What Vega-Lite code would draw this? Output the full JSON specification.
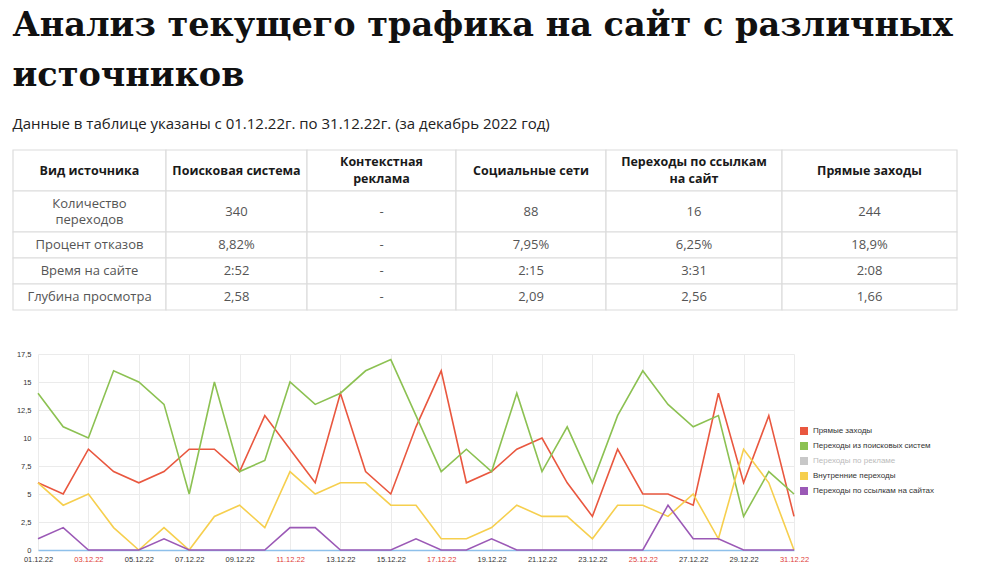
{
  "$schema": "https://vega.github.io/schema/vega-lite/v6.json",
  "padding": {"left": 12, "top": 8, "right": 0, "bottom": 0},
  "background": "white",
  "title": {
    "text": ["Анализ текущего трафика на сайт с различных", "источников"],
    "subtitle": "Данные в таблице указаны с 01.12.22г. по 31.12.22г. (за декабрь 2022 год)",
    "anchor": "start",
    "font": "DejaVu Serif",
    "fontSize": 33.5,
    "fontWeight": "bold",
    "color": "#111111",
    "lineHeight": 50,
    "subtitleFont": "Open Sans",
    "subtitleFontSize": 15,
    "subtitleColor": "#222222",
    "subtitlePadding": 24,
    "offset": 16
  },
  "datasets": {
    "table": [
      {"r": 0, "c": 0, "t": "Вид источника"},
      {"r": 0, "c": 1, "t": "Поисковая система"},
      {"r": 0, "c": 2, "t": "Контекстная\nреклама"},
      {"r": 0, "c": 3, "t": "Социальные сети"},
      {"r": 0, "c": 4, "t": "Переходы по ссылкам\nна сайт"},
      {"r": 0, "c": 5, "t": "Прямые заходы"},
      {"r": 1, "c": 0, "t": "Количество\nпереходов"},
      {"r": 1, "c": 1, "t": "340"},
      {"r": 1, "c": 2, "t": "-"},
      {"r": 1, "c": 3, "t": "88"},
      {"r": 1, "c": 4, "t": "16"},
      {"r": 1, "c": 5, "t": "244"},
      {"r": 2, "c": 0, "t": "Процент отказов"},
      {"r": 2, "c": 1, "t": "8,82%"},
      {"r": 2, "c": 2, "t": "-"},
      {"r": 2, "c": 3, "t": "7,95%"},
      {"r": 2, "c": 4, "t": "6,25%"},
      {"r": 2, "c": 5, "t": "18,9%"},
      {"r": 3, "c": 0, "t": "Время на сайте"},
      {"r": 3, "c": 1, "t": "2:52"},
      {"r": 3, "c": 2, "t": "-"},
      {"r": 3, "c": 3, "t": "2:15"},
      {"r": 3, "c": 4, "t": "3:31"},
      {"r": 3, "c": 5, "t": "2:08"},
      {"r": 4, "c": 0, "t": "Глубина просмотра"},
      {"r": 4, "c": 1, "t": "2,58"},
      {"r": 4, "c": 2, "t": "-"},
      {"r": 4, "c": 3, "t": "2,09"},
      {"r": 4, "c": 4, "t": "2,56"},
      {"r": 4, "c": 5, "t": "1,66"}
    ],
    "traffic": [
      {"d": "01.12.22", "s": "Прямые заходы", "v": 6},
      {"d": "02.12.22", "s": "Прямые заходы", "v": 5},
      {"d": "03.12.22", "s": "Прямые заходы", "v": 9},
      {"d": "04.12.22", "s": "Прямые заходы", "v": 7},
      {"d": "05.12.22", "s": "Прямые заходы", "v": 6},
      {"d": "06.12.22", "s": "Прямые заходы", "v": 7},
      {"d": "07.12.22", "s": "Прямые заходы", "v": 9},
      {"d": "08.12.22", "s": "Прямые заходы", "v": 9},
      {"d": "09.12.22", "s": "Прямые заходы", "v": 7},
      {"d": "10.12.22", "s": "Прямые заходы", "v": 12},
      {"d": "11.12.22", "s": "Прямые заходы", "v": 9},
      {"d": "12.12.22", "s": "Прямые заходы", "v": 6},
      {"d": "13.12.22", "s": "Прямые заходы", "v": 14},
      {"d": "14.12.22", "s": "Прямые заходы", "v": 7},
      {"d": "15.12.22", "s": "Прямые заходы", "v": 5},
      {"d": "16.12.22", "s": "Прямые заходы", "v": 11},
      {"d": "17.12.22", "s": "Прямые заходы", "v": 16},
      {"d": "18.12.22", "s": "Прямые заходы", "v": 6},
      {"d": "19.12.22", "s": "Прямые заходы", "v": 7},
      {"d": "20.12.22", "s": "Прямые заходы", "v": 9},
      {"d": "21.12.22", "s": "Прямые заходы", "v": 10},
      {"d": "22.12.22", "s": "Прямые заходы", "v": 6},
      {"d": "23.12.22", "s": "Прямые заходы", "v": 3},
      {"d": "24.12.22", "s": "Прямые заходы", "v": 9},
      {"d": "25.12.22", "s": "Прямые заходы", "v": 5},
      {"d": "26.12.22", "s": "Прямые заходы", "v": 5},
      {"d": "27.12.22", "s": "Прямые заходы", "v": 4},
      {"d": "28.12.22", "s": "Прямые заходы", "v": 14},
      {"d": "29.12.22", "s": "Прямые заходы", "v": 6},
      {"d": "30.12.22", "s": "Прямые заходы", "v": 12},
      {"d": "31.12.22", "s": "Прямые заходы", "v": 3},
      {"d": "01.12.22", "s": "Переходы из поисковых систем", "v": 14},
      {"d": "02.12.22", "s": "Переходы из поисковых систем", "v": 11},
      {"d": "03.12.22", "s": "Переходы из поисковых систем", "v": 10},
      {"d": "04.12.22", "s": "Переходы из поисковых систем", "v": 16},
      {"d": "05.12.22", "s": "Переходы из поисковых систем", "v": 15},
      {"d": "06.12.22", "s": "Переходы из поисковых систем", "v": 13},
      {"d": "07.12.22", "s": "Переходы из поисковых систем", "v": 5},
      {"d": "08.12.22", "s": "Переходы из поисковых систем", "v": 15},
      {"d": "09.12.22", "s": "Переходы из поисковых систем", "v": 7},
      {"d": "10.12.22", "s": "Переходы из поисковых систем", "v": 8},
      {"d": "11.12.22", "s": "Переходы из поисковых систем", "v": 15},
      {"d": "12.12.22", "s": "Переходы из поисковых систем", "v": 13},
      {"d": "13.12.22", "s": "Переходы из поисковых систем", "v": 14},
      {"d": "14.12.22", "s": "Переходы из поисковых систем", "v": 16},
      {"d": "15.12.22", "s": "Переходы из поисковых систем", "v": 17},
      {"d": "16.12.22", "s": "Переходы из поисковых систем", "v": 12},
      {"d": "17.12.22", "s": "Переходы из поисковых систем", "v": 7},
      {"d": "18.12.22", "s": "Переходы из поисковых систем", "v": 9},
      {"d": "19.12.22", "s": "Переходы из поисковых систем", "v": 7},
      {"d": "20.12.22", "s": "Переходы из поисковых систем", "v": 14},
      {"d": "21.12.22", "s": "Переходы из поисковых систем", "v": 7},
      {"d": "22.12.22", "s": "Переходы из поисковых систем", "v": 11},
      {"d": "23.12.22", "s": "Переходы из поисковых систем", "v": 6},
      {"d": "24.12.22", "s": "Переходы из поисковых систем", "v": 12},
      {"d": "25.12.22", "s": "Переходы из поисковых систем", "v": 16},
      {"d": "26.12.22", "s": "Переходы из поисковых систем", "v": 13},
      {"d": "27.12.22", "s": "Переходы из поисковых систем", "v": 11},
      {"d": "28.12.22", "s": "Переходы из поисковых систем", "v": 12},
      {"d": "29.12.22", "s": "Переходы из поисковых систем", "v": 3},
      {"d": "30.12.22", "s": "Переходы из поисковых систем", "v": 7},
      {"d": "31.12.22", "s": "Переходы из поисковых систем", "v": 5},
      {"d": "01.12.22", "s": "Внутренние переходы", "v": 6},
      {"d": "02.12.22", "s": "Внутренние переходы", "v": 4},
      {"d": "03.12.22", "s": "Внутренние переходы", "v": 5},
      {"d": "04.12.22", "s": "Внутренние переходы", "v": 2},
      {"d": "05.12.22", "s": "Внутренние переходы", "v": 0},
      {"d": "06.12.22", "s": "Внутренние переходы", "v": 2},
      {"d": "07.12.22", "s": "Внутренние переходы", "v": 0},
      {"d": "08.12.22", "s": "Внутренние переходы", "v": 3},
      {"d": "09.12.22", "s": "Внутренние переходы", "v": 4},
      {"d": "10.12.22", "s": "Внутренние переходы", "v": 2},
      {"d": "11.12.22", "s": "Внутренние переходы", "v": 7},
      {"d": "12.12.22", "s": "Внутренние переходы", "v": 5},
      {"d": "13.12.22", "s": "Внутренние переходы", "v": 6},
      {"d": "14.12.22", "s": "Внутренние переходы", "v": 6},
      {"d": "15.12.22", "s": "Внутренние переходы", "v": 4},
      {"d": "16.12.22", "s": "Внутренние переходы", "v": 4},
      {"d": "17.12.22", "s": "Внутренние переходы", "v": 1},
      {"d": "18.12.22", "s": "Внутренние переходы", "v": 1},
      {"d": "19.12.22", "s": "Внутренние переходы", "v": 2},
      {"d": "20.12.22", "s": "Внутренние переходы", "v": 4},
      {"d": "21.12.22", "s": "Внутренние переходы", "v": 3},
      {"d": "22.12.22", "s": "Внутренние переходы", "v": 3},
      {"d": "23.12.22", "s": "Внутренние переходы", "v": 1},
      {"d": "24.12.22", "s": "Внутренние переходы", "v": 4},
      {"d": "25.12.22", "s": "Внутренние переходы", "v": 4},
      {"d": "26.12.22", "s": "Внутренние переходы", "v": 3},
      {"d": "27.12.22", "s": "Внутренние переходы", "v": 5},
      {"d": "28.12.22", "s": "Внутренние переходы", "v": 1},
      {"d": "29.12.22", "s": "Внутренние переходы", "v": 9},
      {"d": "30.12.22", "s": "Внутренние переходы", "v": 6},
      {"d": "31.12.22", "s": "Внутренние переходы", "v": 0},
      {"d": "01.12.22", "s": "Переходы по ссылкам на сайтах", "v": 1},
      {"d": "02.12.22", "s": "Переходы по ссылкам на сайтах", "v": 2},
      {"d": "03.12.22", "s": "Переходы по ссылкам на сайтах", "v": 0},
      {"d": "04.12.22", "s": "Переходы по ссылкам на сайтах", "v": 0},
      {"d": "05.12.22", "s": "Переходы по ссылкам на сайтах", "v": 0},
      {"d": "06.12.22", "s": "Переходы по ссылкам на сайтах", "v": 1},
      {"d": "07.12.22", "s": "Переходы по ссылкам на сайтах", "v": 0},
      {"d": "08.12.22", "s": "Переходы по ссылкам на сайтах", "v": 0},
      {"d": "09.12.22", "s": "Переходы по ссылкам на сайтах", "v": 0},
      {"d": "10.12.22", "s": "Переходы по ссылкам на сайтах", "v": 0},
      {"d": "11.12.22", "s": "Переходы по ссылкам на сайтах", "v": 2},
      {"d": "12.12.22", "s": "Переходы по ссылкам на сайтах", "v": 2},
      {"d": "13.12.22", "s": "Переходы по ссылкам на сайтах", "v": 0},
      {"d": "14.12.22", "s": "Переходы по ссылкам на сайтах", "v": 0},
      {"d": "15.12.22", "s": "Переходы по ссылкам на сайтах", "v": 0},
      {"d": "16.12.22", "s": "Переходы по ссылкам на сайтах", "v": 1},
      {"d": "17.12.22", "s": "Переходы по ссылкам на сайтах", "v": 0},
      {"d": "18.12.22", "s": "Переходы по ссылкам на сайтах", "v": 0},
      {"d": "19.12.22", "s": "Переходы по ссылкам на сайтах", "v": 1},
      {"d": "20.12.22", "s": "Переходы по ссылкам на сайтах", "v": 0},
      {"d": "21.12.22", "s": "Переходы по ссылкам на сайтах", "v": 0},
      {"d": "22.12.22", "s": "Переходы по ссылкам на сайтах", "v": 0},
      {"d": "23.12.22", "s": "Переходы по ссылкам на сайтах", "v": 0},
      {"d": "24.12.22", "s": "Переходы по ссылкам на сайтах", "v": 0},
      {"d": "25.12.22", "s": "Переходы по ссылкам на сайтах", "v": 0},
      {"d": "26.12.22", "s": "Переходы по ссылкам на сайтах", "v": 4},
      {"d": "27.12.22", "s": "Переходы по ссылкам на сайтах", "v": 1},
      {"d": "28.12.22", "s": "Переходы по ссылкам на сайтах", "v": 1},
      {"d": "29.12.22", "s": "Переходы по ссылкам на сайтах", "v": 0},
      {"d": "30.12.22", "s": "Переходы по ссылкам на сайтах", "v": 0},
      {"d": "31.12.22", "s": "Переходы по ссылкам на сайтах", "v": 0}
    ]
  },
  "spacing": 39,
  "resolve": {"legend": {"color": "independent"}},
  "vconcat": [
    {
      "width": 944,
      "height": 160,
      "data": {"name": "table"},
      "transform": [
        {"calculate": "datum.c + 1", "as": "c2"},
        {"calculate": "datum.r + 1", "as": "r2"},
        {"calculate": "datum.c + 0.5", "as": "cm"},
        {"calculate": "datum.r + 0.5", "as": "rm"},
        {"calculate": "indexof(datum.t, '\\n') >= 0", "as": "multi"}
      ],
      "encoding": {
        "x": {"field": "cm", "type": "quantitative", "axis": null,
          "scale": {"domain": [0, 1, 2, 3, 4, 5, 6], "range": [-25, 128, 269, 418, 568, 744, 919], "nice": false, "zero": false}},
        "y": {"field": "rm", "type": "quantitative", "axis": null,
          "scale": {"domain": [0, 1, 2, 3, 4, 5], "range": [0, 41, 82, 108, 134, 160], "nice": false, "zero": false}}
      },
      "layer": [
        {
          "mark": {"type": "rect", "fill": "white", "stroke": "#dcdcdc", "strokeWidth": 1.2},
          "encoding": {
            "x": {"field": "c", "type": "quantitative"},
            "x2": {"field": "c2"},
            "y": {"field": "r", "type": "quantitative"},
            "y2": {"field": "r2"}
          }
        },
        {
          "transform": [{"filter": "datum.r == 0 && !datum.multi"}],
          "mark": {"type": "text", "font": "Open Sans", "fontSize": 12.5, "fontWeight": "bold", "color": "#1a1a1a", "baseline": "middle"},
          "encoding": {"text": {"field": "t"}}
        },
        {
          "transform": [{"filter": "datum.r == 0 && datum.multi"}],
          "mark": {"type": "text", "font": "Open Sans", "fontSize": 12.5, "fontWeight": "bold", "color": "#1a1a1a", "lineBreak": "\n", "lineHeight": 17, "baseline": "middle", "dy": -8.5},
          "encoding": {"text": {"field": "t"}}
        },
        {
          "transform": [{"filter": "datum.r > 0 && !datum.multi"}],
          "mark": {"type": "text", "font": "Open Sans", "fontSize": 13, "color": "#555555", "baseline": "middle"},
          "encoding": {"text": {"field": "t"}}
        },
        {
          "transform": [{"filter": "datum.r > 0 && datum.multi"}],
          "mark": {"type": "text", "font": "Open Sans", "fontSize": 13, "color": "#555555", "lineBreak": "\n", "lineHeight": 16, "baseline": "middle", "dy": -8},
          "encoding": {"text": {"field": "t"}}
        }
      ]
    },
    {
      "width": 756,
      "height": 196,
      "data": {"name": "traffic"},
      "mark": {"type": "line", "strokeWidth": 1.6},
      "encoding": {
        "x": {
          "field": "d", "type": "ordinal",
          "scale": {"type": "point", "padding": 0},
          "axis": {
            "title": null,
            "labelAngle": 0,
            "values": ["01.12.22", "03.12.22", "05.12.22", "07.12.22", "09.12.22", "11.12.22", "13.12.22", "15.12.22", "17.12.22", "19.12.22", "21.12.22", "23.12.22", "25.12.22", "27.12.22", "29.12.22", "31.12.22"],
            "grid": true,
            "gridColor": "#ebebeb",
            "ticks": false,
            "domainColor": "#8ec0ea",
            "domainWidth": 1.5,
            "labelFont": "Liberation Sans",
            "labelFontSize": 7.5,
            "labelPadding": 5,
            "labelColor": {
              "condition": {"test": "indexof(['03.12.22','11.12.22','17.12.22','25.12.22','31.12.22'], datum.value) >= 0", "value": "#e0403a"},
              "value": "#333333"
            }
          }
        },
        "y": {
          "field": "v", "type": "quantitative",
          "scale": {"domain": [0, 17.5], "nice": false},
          "axis": {
            "title": null,
            "values": [0, 2.5, 5, 7.5, 10, 12.5, 15, 17.5],
            "labelExpr": "replace(toString(datum.value), '.', ',')",
            "grid": true,
            "gridColor": "#ebebeb",
            "ticks": false,
            "domain": false,
            "labelFont": "Liberation Sans",
            "labelFontSize": 7.5,
            "labelColor": "#333333",
            "labelPadding": 7,
            "minExtent": 25
          }
        },
        "color": {
          "field": "s", "type": "nominal",
          "scale": {
            "domain": ["Прямые заходы", "Переходы из поисковых систем", "Переходы по рекламе", "Внутренние переходы", "Переходы по ссылкам на сайтах"],
            "range": ["#e9573f", "#8cc152", "#c8c8c8", "#f6cf4e", "#9b59b6"]
          },
          "legend": {
            "title": null,
            "orient": "none",
            "legendX": 762,
            "legendY": 73,
            "symbolType": "square",
            "symbolSize": 64,
            "symbolStrokeWidth": 0,
            "symbolOpacity": 1,
            "labelFont": "Liberation Sans",
            "labelFontSize": 8,
            "labelOffset": 5,
            "rowPadding": 7,
            "encode": {
              "symbols": {"update": {"fill": {"signal": "scale('color', datum.value)"}, "strokeWidth": {"value": 0}}},
              "labels": {"update": {"fill": {"signal": "datum.label === 'Переходы по рекламе' ? '#bbbbbb' : '#333333'"}}}
            }
          }
        }
      }
    }
  ],
  "config": {
    "view": {"stroke": null}
  }
}
